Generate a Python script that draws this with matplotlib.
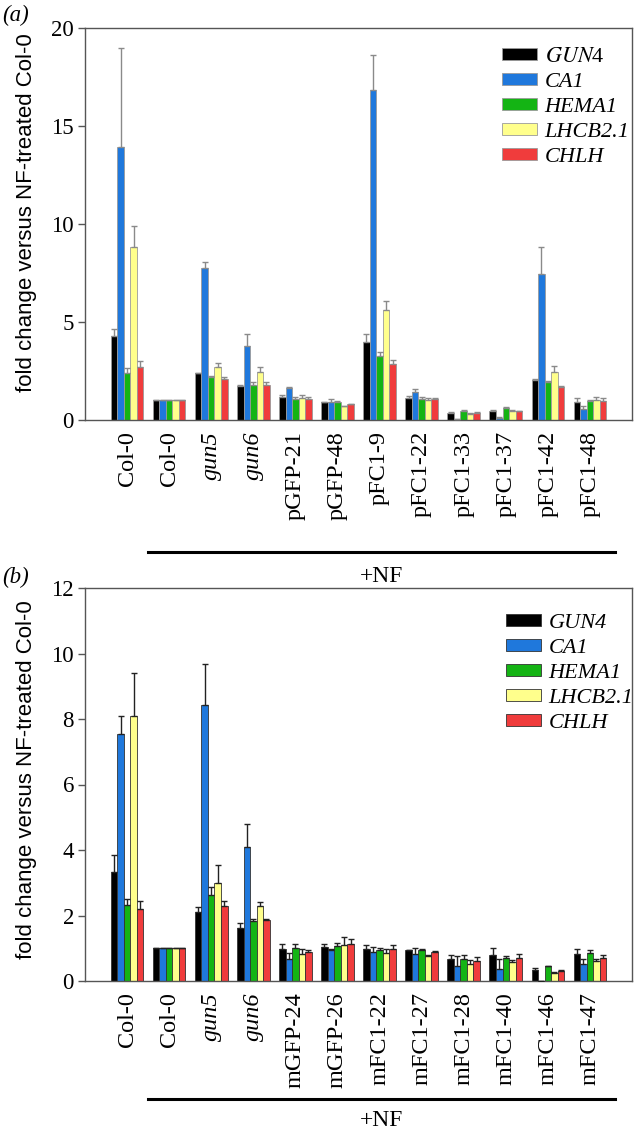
import numpy as np
import matplotlib
matplotlib.use('Agg')
import matplotlib.pyplot as plt

plt.rcParams['font.family'] = 'Liberation Serif'
plt.rcParams['mathtext.fontset'] = 'stix'

# gene order and colours
genes = ['GUN4', 'CA1', 'HEMA1', 'LHCB2.1', 'CHLH']
colors = ['#000000', '#1f78dc', '#14b414', '#ffff8c', '#f03c3c']

# panel (a)
lines_a = ['Col-0', 'Col-0', 'gun5', 'gun6', 'pGFP-21', 'pGFP-48', 'pFC1-9',
           'pFC1-22', 'pFC1-33', 'pFC1-37', 'pFC1-42', 'pFC1-48']
a_gun4 = [4.3, 1.0, 2.38, 1.75, 1.19, 0.90, 4.0, 1.1, 0.37, 0.46, 2.04, 0.93]
a_gun4_err = [0.35, 0, 0.03, 0.05, 0.09, 0.03, 0.39, 0.12, 0.02, 0.03, 0.03, 0.21]
a_ca1 = [13.95, 1.0, 7.74, 3.79, 1.62, 0.93, 16.84, 1.44, 0.03, 0.12, 7.43, 0.54]
a_ca1_err = [5.05, 0, 0.34, 0.6, 0.04, 0.12, 1.76, 0.12, 0, 0.02, 1.41, 0.17]
a_hema1 = [2.41, 1.0, 2.18, 1.79, 1.05, 0.93, 3.27, 1.07, 0.46, 0.63, 1.95, 0.99]
a_hema1_err = [0.23, 0, 0.05, 0.16, 0.14, 0.03, 0.18, 0.12, 0.03, 0.03, 0.03, 0.05]
a_lhcb = [8.84, 1.0, 2.72, 2.43, 1.14, 0.71, 5.61, 1.02, 0.31, 0.48, 2.43, 1.02]
a_lhcb_err = [1.06, 0, 0.2, 0.26, 0.14, 0.02, 0.46, 0.12, 0.03, 0.04, 0.33, 0.17]
a_chlh = [2.72, 1.0, 2.09, 1.79, 1.07, 0.82, 2.86, 1.05, 0.37, 0.44, 1.70, 0.97]
a_chlh_err = [0.31, 0, 0.12, 0.16, 0.12, 0.02, 0.2, 0.09, 0.02, 0.02, 0.02, 0.17]

# panel (b)
lines_b = ['Col-0', 'Col-0', 'gun5', 'gun6', 'mGFP-24', 'mGFP-26', 'mFC1-22',
           'mFC1-27', 'mFC1-28', 'mFC1-40', 'mFC1-46', 'mFC1-47']
b_gun4 = [3.34, 1.0, 2.1, 1.63, 0.97, 1.04, 0.97, 0.94, 0.66, 0.80, 0.35, 0.83]
b_gun4_err = [0.51, 0, 0.16, 0.13, 0.15, 0.10, 0.14, 0.02, 0.14, 0.21, 0.04, 0.14]
b_ca1 = [7.54, 1.0, 8.43, 4.09, 0.67, 0.95, 0.89, 0.83, 0.45, 0.38, 0.01, 0.51]
b_ca1_err = [0.56, 0, 1.25, 0.69, 0.2, 0.02, 0.15, 0.18, 0.3, 0.3, 0, 0.17]
b_hema1 = [2.33, 1.0, 2.64, 1.82, 1.02, 1.06, 0.94, 0.94, 0.68, 0.71, 0.45, 0.87]
b_hema1_err = [0.17, 0, 0.22, 0.08, 0.11, 0.1, 0.07, 0.05, 0.1, 0.05, 0.02, 0.07]
b_lhcb = [8.1, 1.0, 3.0, 2.3, 0.81, 1.11, 0.87, 0.75, 0.51, 0.58, 0.24, 0.6]
b_lhcb_err = [1.3, 0, 0.54, 0.12, 0.16, 0.23, 0.12, 0.03, 0.12, 0.07, 0.03, 0.08]
b_chlh = [2.19, 1.0, 2.3, 1.85, 0.9, 1.13, 0.97, 0.89, 0.60, 0.70, 0.32, 0.70]
b_chlh_err = [0.26, 0, 0.15, 0.04, 0.06, 0.14, 0.12, 0.03, 0.13, 0.13, 0.01, 0.08]

# legend text: panel (a) keeps the "4" of GUN4 upright
labels_a = ['$\\mathit{GUN}$4', 'CA1', 'HEMA1', 'LHCB2.1', 'CHLH']
labels_b = ['GUN4', 'CA1', 'HEMA1', 'LHCB2.1', 'CHLH']

fig = plt.figure(figsize=(6.35, 11.29), dpi=100)
ax_a = fig.add_axes([85 / 635, 1 - 420 / 1129, 547 / 635, 392 / 1129])
ax_b = fig.add_axes([85 / 635, 1 - 981 / 1129, 547 / 635, 393 / 1129])

width = 0.155


def draw_panel(ax, names, series, errs, labels, ymax, step, edge, errc,
               leg_x, leg_y, line_y, nf_y):
    x = np.arange(len(names))
    for i, (vals, err) in enumerate(zip(series, errs)):
        pos = x + (i - 2) * width
        ax.bar(pos, vals, width, color=colors[i], edgecolor=edge, linewidth=0.6,
               label=labels[i], zorder=2)
        ax.errorbar(pos, vals, yerr=[np.zeros(len(err)), err], fmt='none',
                    ecolor=errc, elinewidth=1.0, capsize=2.5, capthick=1.0, zorder=3)
    ax.set_xlim(-1, 12)
    ax.set_ylim(0, ymax)
    ax.set_yticks(np.arange(0, ymax + 0.1, step))
    ax.tick_params(axis='y', direction='out', length=5, width=1, color='#555555',
                   labelsize=16.5, pad=3, labelfontfamily='Liberation Serif')
    ax.set_xticks(x)
    ax.set_xticklabels(names, rotation=90, fontsize=17.5, va='top')
    ax.tick_params(axis='x', length=0, pad=8)
    for t in ax.get_xticklabels():
        if t.get_text().startswith('gun'):
            t.set_style('italic')
    for s in ax.spines.values():
        s.set_color('#555555')
        s.set_linewidth(1.0)
    leg = ax.legend(loc='upper left', bbox_to_anchor=(leg_x, leg_y), frameon=False,
                    fontsize=16, handlelength=1.55, handleheight=0.45,
                    handletextpad=0.35, labelspacing=0.27, borderpad=0,
                    borderaxespad=0)
    for t in leg.get_texts():
        if '$' not in t.get_text():
            t.set_style('italic')
    # +NF bracket under the treated lines
    ax.plot([0.5, 11.6], [line_y, line_y], color='black', lw=2.2,
            transform=ax.get_xaxis_transform(), clip_on=False)
    ax.text(6.05, nf_y, '+NF', ha='center', va='center', fontsize=17,
            transform=ax.get_xaxis_transform())


draw_panel(ax_a, lines_a, [a_gun4, a_ca1, a_hema1, a_lhcb, a_chlh],
           [a_gun4_err, a_ca1_err, a_hema1_err, a_lhcb_err, a_chlh_err],
           labels_a, 20, 5, '#9a9a9a', '#8a8a8a', 0.763, 0.95, -0.337, -0.40)
draw_panel(ax_b, lines_b, [b_gun4, b_ca1, b_hema1, b_lhcb, b_chlh],
           [b_gun4_err, b_ca1_err, b_hema1_err, b_lhcb_err, b_chlh_err],
           labels_b, 12, 2, '#333333', '#222222', 0.77, 0.935, -0.30, -0.355)

fig.text(27 / 635, 1 - 213 / 1129, 'fold change versus NF-treated Col-0',
         rotation=90, ha='center', va='center', fontsize=16, family='Liberation Sans')
fig.text(27 / 635, 1 - 780 / 1129, 'fold change versus NF-treated Col-0',
         rotation=90, ha='center', va='center', fontsize=16, family='Liberation Sans')
fig.text(2 / 635, 1 - 15 / 1129, '(a)', ha='left', va='center', fontsize=16.5, style='italic')
fig.text(2 / 635, 1 - 577 / 1129, '(b)', ha='left', va='center', fontsize=16.5, style='italic')

fig.savefig('out.png', dpi=100)
